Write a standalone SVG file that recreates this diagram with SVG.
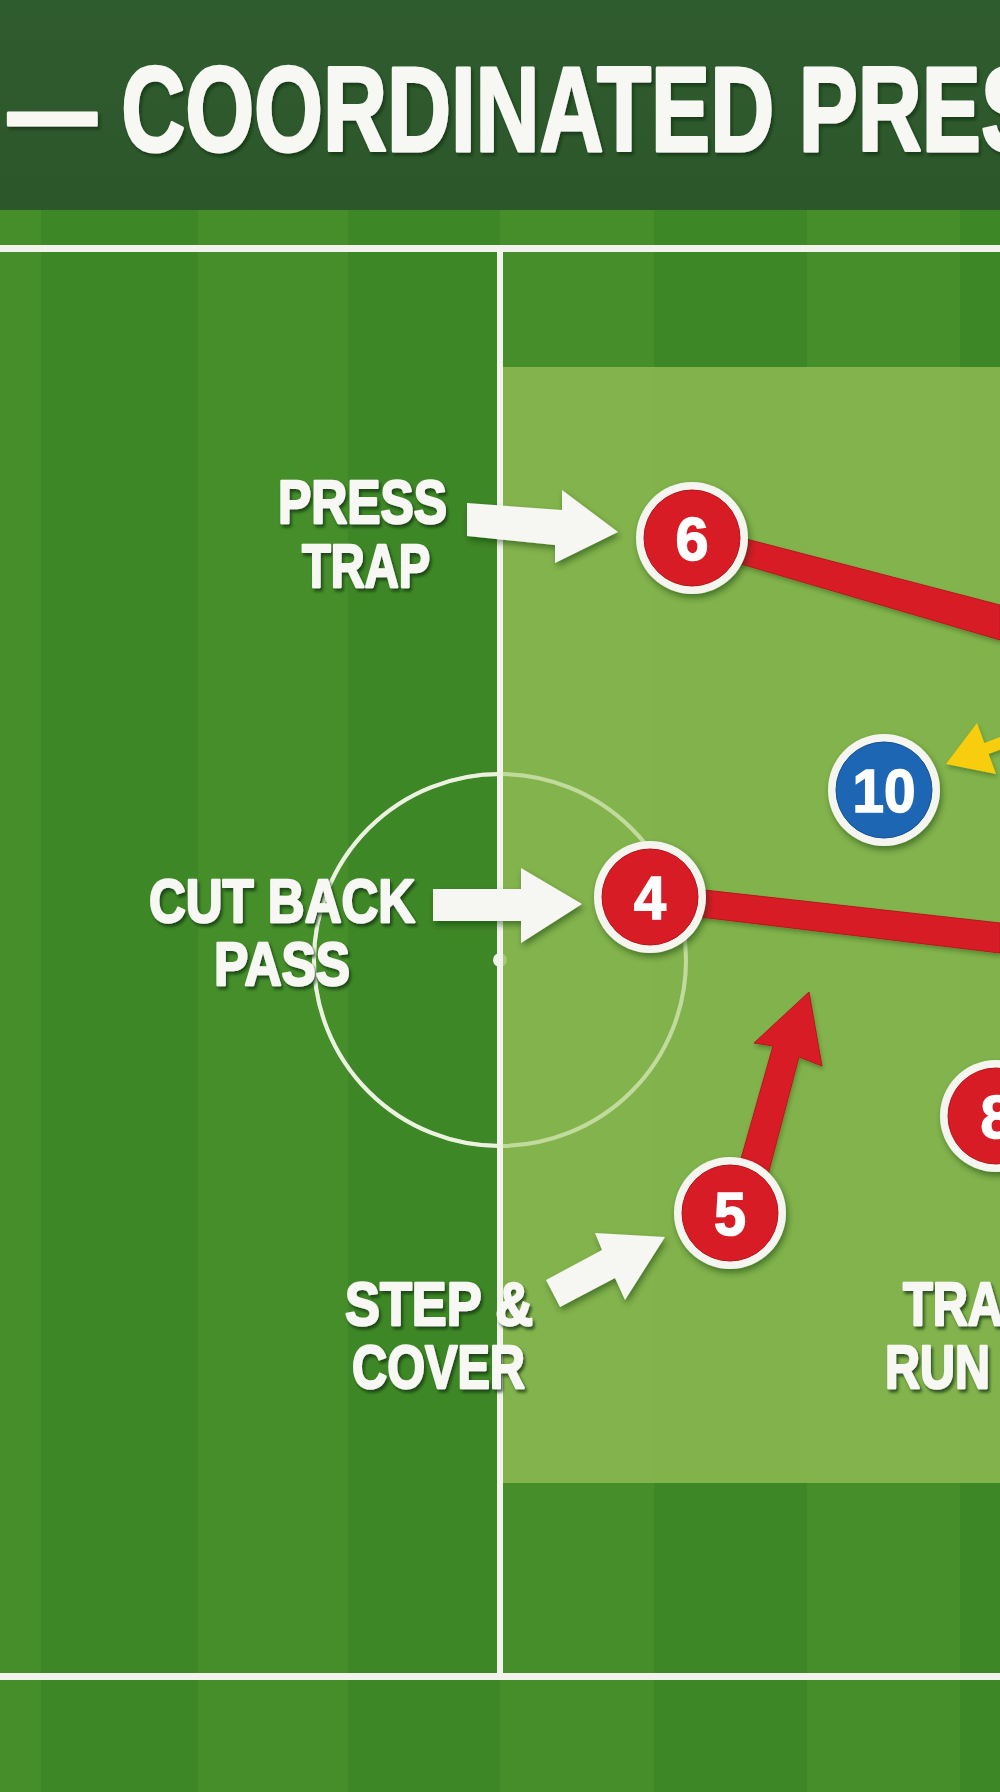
<svg xmlns="http://www.w3.org/2000/svg" width="1000" height="1792" viewBox="0 0 1000 1792">
<defs>
<style>
.t{font-family:"Liberation Sans",Arial,sans-serif;font-weight:700;}
.lbl{font-size:61px;fill:#f7f7f3;stroke:#f7f7f3;stroke-width:2.4;stroke-linejoin:round;filter:url(#tsh);}
.num{font-size:62px;fill:#ffffff;stroke:#ffffff;stroke-width:1.6;text-anchor:middle;}
.ring{fill:#f5f5f0;}
.red{fill:#d71f27;stroke:#b3141b;stroke-width:1;}
.blue{fill:#1e66b3;stroke:#154f8f;stroke-width:1;}
.lt{fill:#458e2a;}
.dk{fill:#3e8726;}
.pl{fill:none;stroke:#f1f3ec;stroke-width:4;}
.warrow{fill:#f6f6f2;filter:url(#sh);}
.rline{fill:#d71f27;stroke:#b8161d;stroke-width:1;filter:url(#sh2);}
</style>
<filter id="sh" x="-20%" y="-20%" width="150%" height="150%"><feDropShadow dx="2" dy="4" stdDeviation="3" flood-color="#0d2a06" flood-opacity="0.45"/></filter>
<filter id="sh2" x="-10%" y="-20%" width="130%" height="150%"><feDropShadow dx="1" dy="3" stdDeviation="2" flood-color="#0d2a06" flood-opacity="0.3"/></filter>
<filter id="tsh" x="-10%" y="-20%" width="130%" height="150%"><feDropShadow dx="2" dy="3" stdDeviation="1.5" flood-color="#15300c" flood-opacity="0.75"/></filter>
<linearGradient id="hdr" x1="0" y1="0" x2="0" y2="1"><stop offset="0" stop-color="#2f5c2e"/><stop offset="1" stop-color="#2c572b"/></linearGradient>
</defs>

<g id="pitch">
<rect x="0" y="209" width="1000" height="1583" class="dk"/>
<rect x="0" y="209" width="41" height="1583" class="lt"/>
<rect x="198" y="209" width="150" height="1583" class="lt"/>
<rect x="500" y="209" width="154" height="1583" class="lt"/>
<rect x="807" y="209" width="153" height="1583" class="lt"/>
<rect x="0" y="245" width="1000" height="7" fill="#f1f3ec"/>
<rect x="0" y="1673" width="1000" height="7" fill="#f1f3ec"/>
<rect x="497" y="248" width="6" height="1428" fill="#f1f3ec"/>
<circle cx="500" cy="960" r="186" class="pl"/>
<circle cx="500" cy="960" r="7" fill="#f1f3ec"/>
<rect id="zone" x="503" y="367" width="497" height="1116" fill="#92bd55" opacity="0.8"/>
<circle cx="500" cy="960" r="186" fill="none" stroke="#e4f2d0" stroke-width="4" opacity="0.45"/>
</g>

<g id="header">
<rect x="0" y="0" width="1000" height="210" fill="url(#hdr)"/>
<text class="t" x="8" y="151" font-size="120" fill="#f7f7f4" stroke="#f7f7f4" stroke-width="3" stroke-linejoin="round" textLength="1032" lengthAdjust="spacingAndGlyphs" filter="url(#tsh)">— COORDINATED PRES</text>
</g>

<g id="connectors">
<polygon class="rline" points="700,527 1000,605 1000,640 700,552"/>
<polygon class="rline" points="650,884 1000,923 1000,953 650,911"/>
<polygon class="rline" points="735,1180 773,1046 754,1043 809,992 822,1066 799,1057 765,1186"/>
<polygon fill="#f7cd0a" filter="url(#sh2)" points="946,764 977,723 984.4,742.9 1008,734.1 1012,745.3 988.6,754.1 996,774"/>
<polygon class="warrow" points="467,503 562,510 562,490 618,532 555,563 555,545 467,536"/>
<polygon class="warrow" points="433,889 521,889 521,868 582,904 521,943 521,921 433,921"/>
<polygon class="warrow" points="546,1280 602,1250 595,1233 665,1237 625,1300 615,1278 560,1307"/>
</g>

<g id="player-6" filter="url(#sh)">
<circle cx="692" cy="538" r="56" class="ring"/>
<circle cx="692" cy="538" r="48" class="red"/>
<text class="t num" x="692" y="560" textLength="33" lengthAdjust="spacingAndGlyphs">6</text>
</g>
<g id="player-10" filter="url(#sh)">
<circle cx="884" cy="790" r="56" class="ring"/>
<circle cx="884" cy="790" r="48" class="blue"/>
<text class="t num" x="884" y="812" textLength="63" lengthAdjust="spacingAndGlyphs">10</text>
</g>
<g id="player-4" filter="url(#sh)">
<circle cx="650" cy="897" r="56" class="ring"/>
<circle cx="650" cy="897" r="48" class="red"/>
<text class="t num" x="650" y="919" textLength="32" lengthAdjust="spacingAndGlyphs">4</text>
</g>
<g id="player-5" filter="url(#sh)">
<circle cx="730" cy="1213" r="56" class="ring"/>
<circle cx="730" cy="1213" r="48" class="red"/>
<text class="t num" x="730" y="1235" textLength="32" lengthAdjust="spacingAndGlyphs">5</text>
</g>
<g id="player-8" filter="url(#sh)">
<circle cx="996" cy="1116" r="56" class="ring"/>
<circle cx="996" cy="1116" r="48" class="red"/>
<text class="t num" x="997" y="1138" textLength="33" lengthAdjust="spacingAndGlyphs">8</text>
</g>

<g id="label-press-trap">
<text class="t lbl" x="278" y="523" textLength="169" lengthAdjust="spacingAndGlyphs">PRESS</text>
<text class="t lbl" x="302" y="587" textLength="128" lengthAdjust="spacingAndGlyphs">TRAP</text>
</g>
<g id="label-cut-back-pass">
<text class="t lbl" x="149" y="922" textLength="266" lengthAdjust="spacingAndGlyphs">CUT BACK</text>
<text class="t lbl" x="214" y="985" textLength="136" lengthAdjust="spacingAndGlyphs">PASS</text>
</g>
<g id="label-step-cover">
<text class="t lbl" x="345" y="1325" textLength="188" lengthAdjust="spacingAndGlyphs">STEP &amp;</text>
<text class="t lbl" x="352" y="1388" textLength="173" lengthAdjust="spacingAndGlyphs">COVER</text>
</g>
<g id="label-right">
<text class="t lbl" x="903" y="1325" textLength="100" lengthAdjust="spacingAndGlyphs">TRA</text>
<text class="t lbl" x="885" y="1388" textLength="105" lengthAdjust="spacingAndGlyphs">RUN</text>
</g>
</svg>
